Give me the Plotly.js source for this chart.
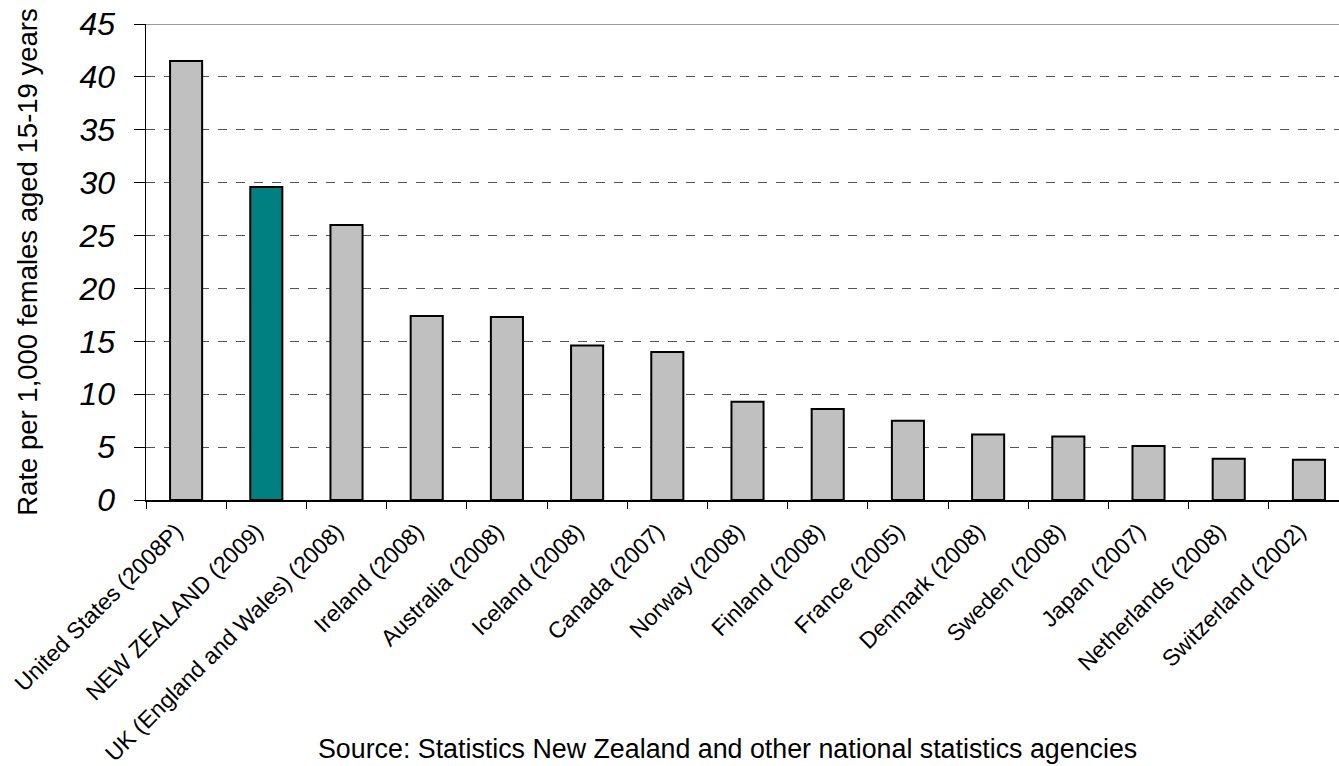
<!DOCTYPE html>
<html>
<head>
<meta charset="utf-8">
<script src="https://cdn.plot.ly/plotly-3.0.1.min.js"></script>
<style>html,body{margin:0;padding:0;background:#fff;}#chart{width:1339px;height:766px;}</style>
</head>
<body>
<div id="chart"></div>
<script>
const categories = [
  "United States (2008P)", "NEW ZEALAND (2009)", "UK (England and Wales) (2008)",
  "Ireland (2008)", "Australia (2008)", "Iceland (2008)", "Canada (2007)",
  "Norway (2008)", "Finland (2008)", "France (2005)", "Denmark (2008)",
  "Sweden (2008)", "Japan (2007)", "Netherlands (2008)", "Switzerland (2002)"
];
const rates = [41.5, 29.6, 26.0, 17.4, 17.3, 14.6, 14.0, 9.3, 8.6, 7.5, 6.2, 6.0, 5.1, 3.9, 3.8];
const highlight = "NEW ZEALAND (2009)";
const yTicks = [0, 5, 10, 15, 20, 25, 30, 35, 40, 45];
const yTitle = "Rate per 1,000 females aged 15-19 years";
const sourceNote = "Source: Statistics New Zealand and other national statistics agencies";

const FONT = "Liberation Sans, Arial, sans-serif";
const barColors = categories.map(c => c === highlight ? "#008080" : "#C0C0C0");

const trace = {
  type: "bar",
  x: categories,
  y: rates,
  width: 0.4,
  marker: {color: barColors, line: {color: "#000000", width: 2}},
  hoverinfo: "x+y"
};

const layout = {
  width: 1339, height: 766,
  margin: {l: 146, r: 0, t: 24, b: 266, pad: 0},
  paper_bgcolor: "#ffffff", plot_bgcolor: "#ffffff",
  showlegend: false,
  xaxis: {
    type: "category",
    range: [-0.5, 14.375],
    tickson: "boundaries",
    ticks: "outside", ticklen: 7, tickwidth: 1, tickcolor: "#000",
    tickangle: -45,
    tickfont: {family: FONT, size: 23, color: "#000"},
    ticklabelstandoff: 7,
    ticklabelshift: -10,
    showgrid: false,
    showline: true, linecolor: "#000", linewidth: 1.5,
    zeroline: false,
    automargin: false
  },
  yaxis: {
    range: [0, 45],
    tickvals: yTicks,
    ticktext: yTicks.map(String),
    ticks: "outside", ticklen: 11, tickwidth: 1, tickcolor: "#000",
    tickfont: {family: FONT, size: 32, color: "#000", style: "italic"},
    ticklabelstandoff: 12,
    showgrid: true, gridcolor: "#555555", griddash: "dash", gridwidth: 1,
    showline: true, linecolor: "#000", linewidth: 1.5,
    zeroline: false,
    automargin: false,
    title: {text: yTitle, font: {family: FONT, size: 27.5, color: "#000"}, standoff: 33}
  },
  shapes: [{
    type: "line", xref: "paper", yref: "y", x0: 0, x1: 1, y0: 45, y1: 45,
    line: {color: "#999999", width: 2}
  }],
  annotations: [{
    text: sourceNote, xref: "paper", yref: "paper",
    x: (727 - 146) / 1193, y: -(749 - 500) / 476,
    xanchor: "center", yanchor: "middle", showarrow: false,
    font: {family: FONT, size: 26.8, color: "#000"}
  }]
};

Plotly.newPlot("chart", [trace], layout, {staticPlot: true, displayModeBar: false});
</script>
</body>
</html>
